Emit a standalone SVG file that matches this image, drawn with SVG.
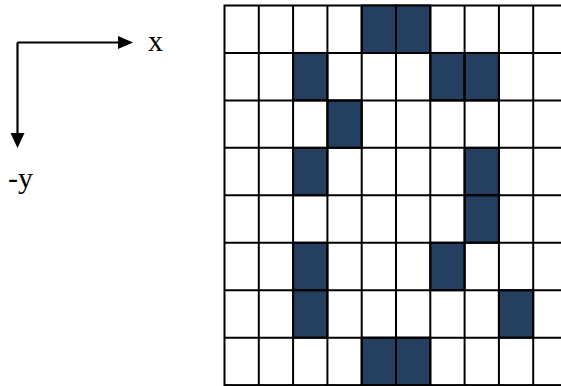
<svg xmlns="http://www.w3.org/2000/svg" width="561" height="386" viewBox="0 0 561 386">
<defs>
<style>
.on{fill:#243f60;stroke:#000;stroke-width:2}
.ax{stroke:#000;stroke-width:2.2;fill:none}
.head{fill:#000}
.lbl{font-family:"Liberation Serif",serif;font-size:30px;fill:#000}
</style>
</defs>
<rect width="561" height="386" fill="#fff"/>
<g id="axes">
<path class="ax" d="M17.5,42.5 H119"/>
<polygon class="head" points="118,36 133,42.5 118,49"/>
<path class="ax" d="M17.5,42.5 V134"/>
<polygon class="head" points="10.5,133 24.5,133 17.5,148"/>
<text class="lbl" x="148" y="51">x</text>
<text class="lbl" x="8" y="188">-y</text>
</g>
<g id="grid">
<rect x="224.5" y="5.5" width="343" height="379.6" fill="#fff" stroke="#000" stroke-width="2"/>
<g class="filled">
<rect class="on" x="361.7" y="5.5" width="34.3" height="47.45"/>
<rect class="on" x="396" y="5.5" width="34.3" height="47.45"/>
<rect class="on" x="293.1" y="52.95" width="34.3" height="47.45"/>
<rect class="on" x="430.3" y="52.95" width="34.3" height="47.45"/>
<rect class="on" x="464.6" y="52.95" width="34.3" height="47.45"/>
<rect class="on" x="327.4" y="100.4" width="34.3" height="47.45"/>
<rect class="on" x="293.1" y="147.85" width="34.3" height="47.45"/>
<rect class="on" x="464.6" y="147.85" width="34.3" height="47.45"/>
<rect class="on" x="464.6" y="195.3" width="34.3" height="47.45"/>
<rect class="on" x="293.1" y="242.75" width="34.3" height="47.45"/>
<rect class="on" x="430.3" y="242.75" width="34.3" height="47.45"/>
<rect class="on" x="293.1" y="290.2" width="34.3" height="47.45"/>
<rect class="on" x="498.9" y="290.2" width="34.3" height="47.45"/>
<rect class="on" x="361.7" y="337.65" width="34.3" height="47.45"/>
<rect class="on" x="396" y="337.65" width="34.3" height="47.45"/>
</g>
<g stroke="#000" stroke-width="2">
<line x1="258.8" y1="5.5" x2="258.8" y2="385.1"/>
<line x1="293.1" y1="5.5" x2="293.1" y2="385.1"/>
<line x1="327.4" y1="5.5" x2="327.4" y2="385.1"/>
<line x1="361.7" y1="5.5" x2="361.7" y2="385.1"/>
<line x1="396" y1="5.5" x2="396" y2="385.1"/>
<line x1="430.3" y1="5.5" x2="430.3" y2="385.1"/>
<line x1="464.6" y1="5.5" x2="464.6" y2="385.1"/>
<line x1="498.9" y1="5.5" x2="498.9" y2="385.1"/>
<line x1="533.2" y1="5.5" x2="533.2" y2="385.1"/>
<line x1="224.5" y1="52.95" x2="567.5" y2="52.95"/>
<line x1="224.5" y1="100.4" x2="567.5" y2="100.4"/>
<line x1="224.5" y1="147.85" x2="567.5" y2="147.85"/>
<line x1="224.5" y1="195.3" x2="567.5" y2="195.3"/>
<line x1="224.5" y1="242.75" x2="567.5" y2="242.75"/>
<line x1="224.5" y1="290.2" x2="567.5" y2="290.2"/>
<line x1="224.5" y1="337.65" x2="567.5" y2="337.65"/>
</g>
</g>
</svg>
